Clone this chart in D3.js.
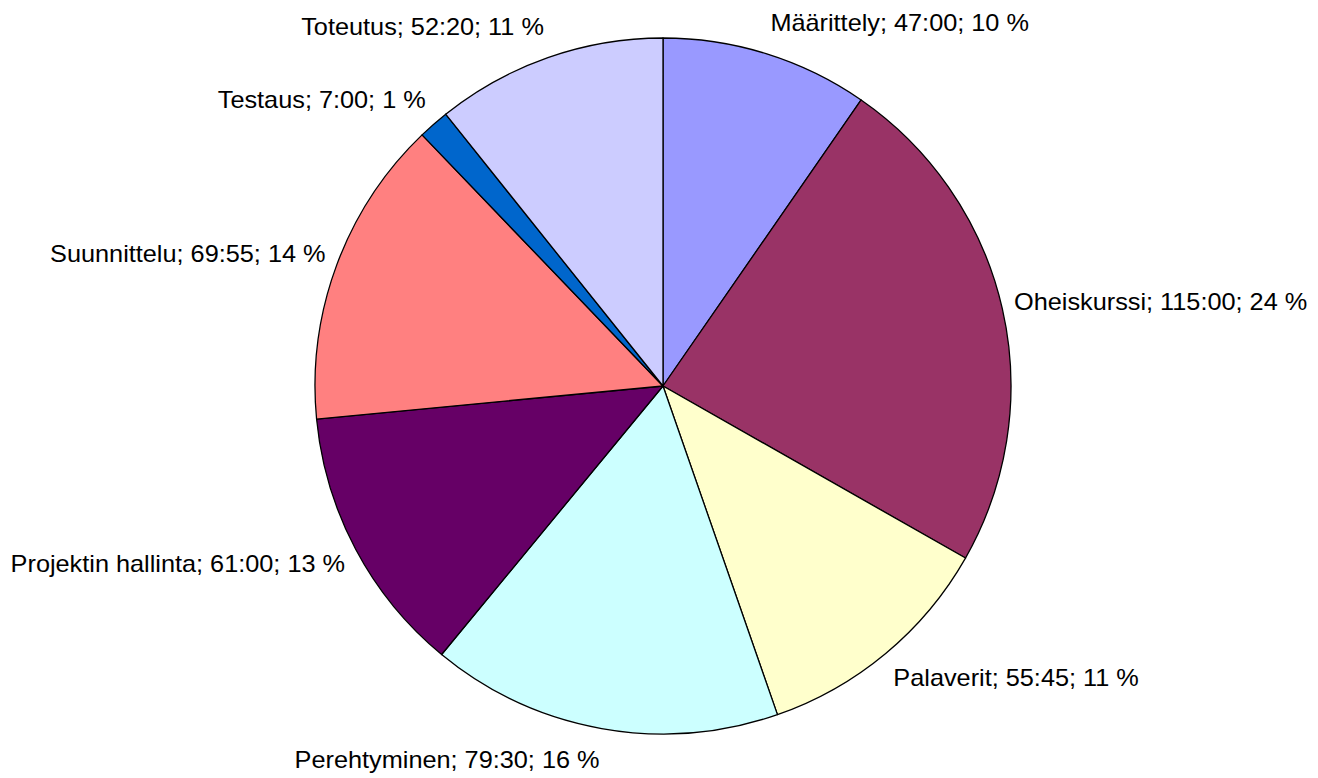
<!DOCTYPE html>
<html>
<head>
<meta charset="utf-8">
<script src="https://cdn.jsdelivr.net/npm/d3@7"></script>
<style>
  body { margin: 0; background: #fff; }
  text { font-family: "Liberation Sans", Arial, sans-serif; font-size: 23px; fill: #000; }
</style>
</head>
<body>
<div id="container"></div>
<script>
var categories = ["Määrittely", "Oheiskurssi", "Palaverit", "Perehtyminen", "Projektin hallinta", "Suunnittelu", "Testaus", "Toteutus"]
var durations = ["47:00", "115:00", "55:45", "79:30", "61:00", "69:55", "7:00", "52:20"]
var colours = ["#9999FF", "#993366", "#FFFFCC", "#CCFFFF", "#660066", "#FF8080", "#0066CC", "#CCCCFF"]

function toMinutes(s) {
  var p = s.split(":")
  return +p[0] * 60 + +p[1]
}

function drawPie() {
  var width = 1318
  var height = 778
  var cx = 663
  var cy = 386
  var radius = 348

  var svg = d3.select("#container")
    .append("svg")
    .attr("width", width)
    .attr("height", height)

  var data = categories.map(function(c, i) {
    return { name: c, time: durations[i], value: toMinutes(durations[i]), colour: colours[i] }
  })
  var total = d3.sum(data, (d) => d.value)

  var pie = d3.pie()
    .sort(null)
    .value((d) => d.value)

  var arc = d3.arc()
    .innerRadius(0)
    .outerRadius(radius)

  var g = svg.append("g")
    .attr("transform", "translate(" + cx + "," + cy + ")")

  var arcs = pie(data)

  g.selectAll("path")
    .data(arcs)
    .enter()
    .append("path")
    .attr("d", arc)
    .style("fill", (d) => d.data.colour)
    .attr("stroke", "black")
    .style("stroke-width", 1.3)
    .style("stroke-linejoin", "round")

  // labels outside the pie, Excel style (text is a bit wide in the original)
  var labelR = radius + 12
  g.selectAll("text")
    .data(arcs)
    .enter()
    .append("text")
    .attr("transform", (d) => {
      var a = (d.startAngle + d.endAngle) / 2
      var x = Math.sin(a) * labelR
      var y = -Math.cos(a) * labelR - Math.cos(a) * 20
      return "translate(" + x + "," + y + ") scale(1.1,1)"
    })
    .attr("dy", "0.35em")
    .attr("text-anchor", (d) => {
      var a = (d.startAngle + d.endAngle) / 2
      return Math.sin(a) >= 0 ? "start" : "end"
    })
    .text((d) => d.data.name + "; " + d.data.time + "; " + Math.round(d.data.value / total * 100) + " %")
}

drawPie()
</script>
</body>
</html>
